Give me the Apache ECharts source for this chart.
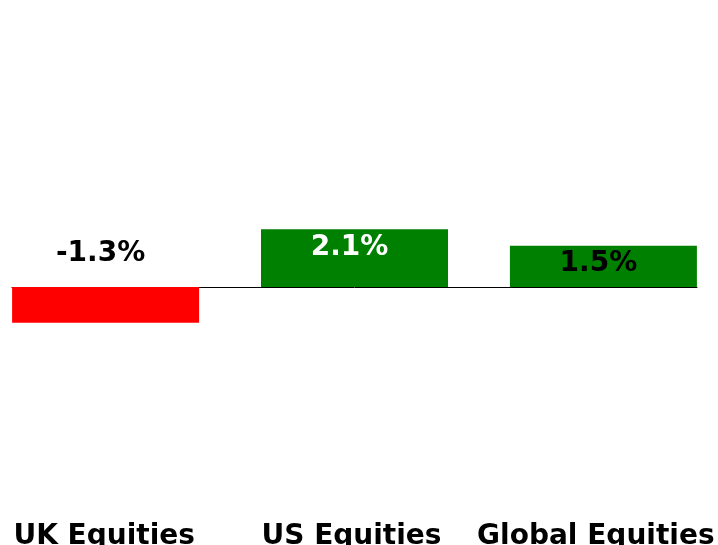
<!DOCTYPE html>
<html>
<head>
<meta charset="utf-8">
<script src="https://cdn.jsdelivr.net/npm/echarts@6/dist/echarts.min.js"></script>
<style>
html, body { margin: 0; padding: 0; background: #fff; }
#chart { width: 718px; height: 545px; }
</style>
</head>
<body>
<div id="chart"></div>
<script>
var categories = ['UK Equities', 'US Equities', 'Global Equities']
var returns = [-1.3, 2.1, 1.5]
var barColors = ['#ff0000', '#008000', '#008000']
var labelColors = ['#000000', '#ffffff', '#000000']

var font = 'DejaVu Sans'

// one series per category so each bar can sit a little off centre like the original
var seriesList = []
for (let i = 0; i < returns.length; i++) {
	let data = [null, null, null]
	data[i] = returns[i]
	seriesList.push({
		type: 'bar',
		name: categories[i],
		data: data,
		barWidth: 187,
		barGap: '-89%',
		itemStyle: { color: barColors[i] },
		label: {
			show: true,
			position: returns[i] < 0 ? 'top' : 'insideTop',
			distance: returns[i] < 0 ? 19 : 4,
			offset: [-5, 0],
			color: labelColors[i],
			fontFamily: font,
			fontWeight: 'bold',
			fontSize: 28,
			formatter: function (p) { return p.value.toFixed(1) + '%' }
		}
	})
}

var mychart = echarts.init(document.getElementById('chart'))
var option = {
	animation: false,
	grid: { left: 12, right: 21, top: 67, bottom: 120.5, outerBoundsMode: 'none', containLabel: false },
	xAxis: [{
		type: 'category',
		data: categories,
		axisLine: { onZero: true, lineStyle: { color: '#000', width: 1 } },
		axisTick: { show: false },
		axisLabel: { show: false }
	}, {
		type: 'category',
		position: 'bottom',
		data: [
			{ value: categories[0], textStyle: { padding: [0, 44, 0, 0] } },
			{ value: categories[1], textStyle: { padding: [0, 6, 0, 0] } },
			{ value: categories[2], textStyle: { padding: [0, 0, 0, 26] } }
		],
		axisLine: { show: false, onZero: false },
		axisTick: { show: false },
		axisLabel: {
			interval: 0,
			hideOverlap: false,
			margin: 98,
			color: '#000',
			fontFamily: font,
			fontWeight: 'bold',
			fontSize: 28
		}
	}],
	yAxis: {
		type: 'value',
		min: -5,
		max: 8,
		show: false,
		splitLine: { show: false }
	},
	series: seriesList
}
mychart.setOption(option)
</script>
</body>
</html>
